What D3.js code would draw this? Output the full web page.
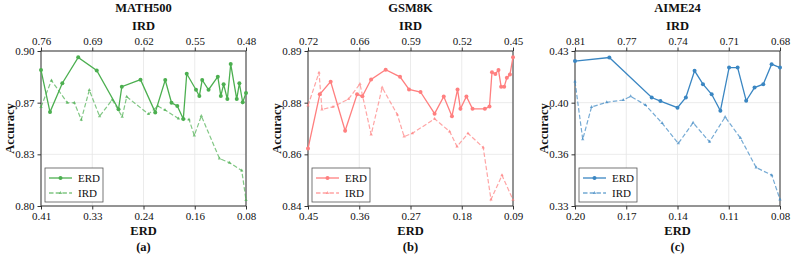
<!DOCTYPE html>
<html>
<head>
<meta charset="utf-8">
<script src="https://cdn.jsdelivr.net/npm/d3@7"></script>
<style>
  body { margin: 0; background: #fff; }
  svg { display: block; }
  svg text { font-family: "Liberation Serif", "Times New Roman", "DejaVu Serif", serif !important; }
</style>
</head>
<body>
<svg id="chart" width="793" height="256"></svg>
<script>
// ---- data ----
const titles = ["MATH500", "GSM8K", "AIME24"];
const captions = ["(a)", "(b)", "(c)"];
const colors = ["#4caf50", "#ff7f7f", "#3a86c2"];

const mathYDomain = [0.80, 0.90];
const mathYTicks = ["0.80", "0.83", "0.87", "0.90"];
const mathErdDomain = [0.41, 0.08];
const mathErdTicks = ["0.41", "0.33", "0.24", "0.16", "0.08"];
const mathIrdDomain = [0.76, 0.48];
const mathIrdTicks = ["0.76", "0.69", "0.62", "0.55", "0.48"];
const mathErdX = [0.410, 0.3955, 0.3757, 0.3501, 0.3203, 0.2852, 0.2799, 0.2498, 0.2261, 0.2100, 0.1999, 0.1906, 0.1809, 0.1754, 0.1605, 0.1551, 0.1505, 0.1403, 0.1254, 0.1205, 0.1160, 0.1100, 0.1046, 0.0949, 0.0907, 0.0853, 0.080];
const mathErdY = [0.8877, 0.8606, 0.8792, 0.8959, 0.8875, 0.8624, 0.8770, 0.8815, 0.8604, 0.8813, 0.8666, 0.8645, 0.8561, 0.8853, 0.8750, 0.8710, 0.8813, 0.8750, 0.8834, 0.8710, 0.8785, 0.8690, 0.8916, 0.8690, 0.8792, 0.8669, 0.8729];
const mathIrdX = [0.760, 0.7457, 0.7241, 0.7145, 0.7050, 0.6940, 0.6800, 0.6627, 0.6491, 0.6429, 0.6132, 0.6006, 0.5906, 0.5722, 0.5578, 0.5506, 0.5410, 0.5162, 0.5025, 0.4858, 0.480];
const mathIrdY = [0.8639, 0.8810, 0.8666, 0.8666, 0.8557, 0.8748, 0.8579, 0.8686, 0.8576, 0.8705, 0.8593, 0.8645, 0.8619, 0.8564, 0.8558, 0.8455, 0.8581, 0.8306, 0.8279, 0.8229, 0.8039];

const gsmYDomain = [0.844, 0.892];
const gsmYTicks = ["0.84", "0.86", "0.88", "0.89"];
const gsmErdDomain = [0.45, 0.09];
const gsmErdTicks = ["0.45", "0.36", "0.27", "0.18", "0.09"];
const gsmIrdDomain = [0.72, 0.45];
const gsmIrdTicks = ["0.72", "0.66", "0.59", "0.52", "0.45"];
const gsmErdX = [0.450, 0.4293, 0.4102, 0.3848, 0.3638, 0.3545, 0.3392, 0.3136, 0.2884, 0.2726, 0.2524, 0.2277, 0.2116, 0.1972, 0.1874, 0.1823, 0.1718, 0.1611, 0.1394, 0.1313, 0.1269, 0.1210, 0.1155, 0.1108, 0.1055, 0.1008, 0.0954, 0.090];
const gsmErdY = [0.8618, 0.8786, 0.8825, 0.8673, 0.8786, 0.8780, 0.8832, 0.8862, 0.8840, 0.8801, 0.8793, 0.8726, 0.8779, 0.8718, 0.8801, 0.8741, 0.8779, 0.8741, 0.8741, 0.8748, 0.8854, 0.8849, 0.8861, 0.8809, 0.8809, 0.8837, 0.8847, 0.8901];
const gsmIrdX = [0.720, 0.7055, 0.7016, 0.6871, 0.6667, 0.6516, 0.6368, 0.6223, 0.6023, 0.5934, 0.5826, 0.5533, 0.5335, 0.5237, 0.5093, 0.4892, 0.4790, 0.4645, 0.450];
const gsmIrdY = [0.8751, 0.8853, 0.8739, 0.8747, 0.8771, 0.8818, 0.8661, 0.8807, 0.8723, 0.8655, 0.8665, 0.8710, 0.8671, 0.8624, 0.8665, 0.8621, 0.8460, 0.8535, 0.8459];

const aimeYDomain = [0.33, 0.43];
const aimeYTicks = ["0.33", "0.36", "0.40", "0.43"];
const aimeErdDomain = [0.20, 0.08];
const aimeErdTicks = ["0.20", "0.17", "0.14", "0.11", "0.08"];
const aimeIrdDomain = [0.81, 0.68];
const aimeIrdTicks = ["0.81", "0.77", "0.74", "0.71", "0.68"];
const aimeErdX = [0.200, 0.1799, 0.1551, 0.1500, 0.1400, 0.1351, 0.1300, 0.1251, 0.1200, 0.1149, 0.1098, 0.1048, 0.0998, 0.0949, 0.0898, 0.0849, 0.080];
const aimeErdY = [0.4235, 0.4258, 0.4000, 0.3977, 0.3934, 0.4000, 0.4172, 0.4086, 0.4021, 0.3914, 0.4193, 0.4193, 0.3979, 0.4064, 0.4086, 0.4215, 0.4193];
const aimeIrdX = [0.810, 0.8051, 0.7995, 0.7899, 0.7794, 0.7747, 0.7653, 0.7548, 0.7445, 0.7351, 0.7247, 0.7148, 0.7051, 0.6951, 0.6852, 0.680];
const aimeIrdY = [0.4103, 0.3730, 0.3939, 0.3969, 0.3984, 0.4008, 0.3951, 0.3835, 0.3704, 0.3837, 0.3714, 0.3874, 0.3739, 0.3548, 0.3499, 0.3342];

const panels = [
  {yDomain: mathYDomain, yTicks: mathYTicks, erdDomain: mathErdDomain, erdTicks: mathErdTicks, irdDomain: mathIrdDomain, irdTicks: mathIrdTicks,
   erdX: mathErdX, erdY: mathErdY, irdX: mathIrdX, irdY: mathIrdY},
  {yDomain: gsmYDomain, yTicks: gsmYTicks, erdDomain: gsmErdDomain, erdTicks: gsmErdTicks, irdDomain: gsmIrdDomain, irdTicks: gsmIrdTicks,
   erdX: gsmErdX, erdY: gsmErdY, irdX: gsmIrdX, irdY: gsmIrdY},
  {yDomain: aimeYDomain, yTicks: aimeYTicks, erdDomain: aimeErdDomain, erdTicks: aimeErdTicks, irdDomain: aimeIrdDomain, irdTicks: aimeIrdTicks,
   erdX: aimeErdX, erdY: aimeErdY, irdX: aimeIrdX, irdY: aimeIrdY}
];

// ---- layout ----
const lefts = [41, 308, 575];
const plotTop = 51, width = 205, height = 155;
const serif = "'Liberation Serif', 'Times New Roman', 'DejaVu Serif', serif";

const svg = d3.select("#chart");

// evenly spaced tick positions between the domain ends
const spaced = (domain, n) => d3.range(n).map(i => domain[0] + (domain[1] - domain[0]) * i / (n - 1));

panels.forEach((p, k) => {
  const color = colors[k];
  const g = svg.append("g").attr("transform", `translate(${lefts[k]},${plotTop})`);

  const x = d3.scaleLinear().domain(p.erdDomain).range([0, width]);
  const xTop = d3.scaleLinear().domain(p.irdDomain).range([0, width]);
  const y = d3.scaleLinear().domain(p.yDomain).range([height, 0]);

  const xVals = spaced(p.erdDomain, p.erdTicks.length);
  const xTopVals = spaced(p.irdDomain, p.irdTicks.length);
  const yVals = spaced(p.yDomain, p.yTicks.length);

  // grid
  g.append("g").selectAll("line").data(yVals).join("line")
    .attr("x1", 0).attr("x2", width)
    .attr("y1", d => y(d)).attr("y2", d => y(d))
    .attr("stroke", "#e6e6e6").attr("stroke-width", 0.8);
  g.append("g").selectAll("line").data(xVals).join("line")
    .attr("y1", 0).attr("y2", height)
    .attr("x1", d => x(d)).attr("x2", d => x(d))
    .attr("stroke", "#e6e6e6").attr("stroke-width", 0.8);

  // axes
  const styleAxis = sel => {
    sel.attr("font-family", serif);
    sel.select(".domain").remove();
    sel.selectAll(".tick line").attr("stroke", "#333");
    sel.selectAll(".tick text").attr("fill", "#111").style("font-size", "11px");
  };
  g.append("g").call(d3.axisLeft(y).tickValues(yVals).tickFormat((d, i) => p.yTicks[i]).tickSize(3.5).tickPadding(3)).call(styleAxis);
  g.append("g").attr("transform", `translate(0,${height})`)
    .call(d3.axisBottom(x).tickValues(xVals).tickFormat((d, i) => p.erdTicks[i]).tickSize(3.5).tickPadding(3)).call(styleAxis);
  g.append("g")
    .call(d3.axisTop(xTop).tickValues(xTopVals).tickFormat((d, i) => p.irdTicks[i]).tickSize(3.5).tickPadding(3)).call(styleAxis);

  g.append("rect").attr("width", width).attr("height", height)
    .attr("fill", "none").attr("stroke", "#333").attr("stroke-width", 1);

  // IRD series (top axis), dashed with small triangles
  const irdPts = p.irdX.map((v, i) => [xTop(v), y(p.irdY[i])]);
  g.append("path").datum(irdPts)
    .attr("fill", "none").attr("stroke", color).attr("stroke-width", 1.2)
    .attr("stroke-dasharray", "4.5,2.2").attr("opacity", 0.7)
    .attr("d", d3.line());
  g.append("g").selectAll("path").data(irdPts).join("path")
    .attr("transform", d => `translate(${d[0]},${d[1]})`)
    .attr("d", d3.symbol(d3.symbolTriangle, 5))
    .attr("fill", color).attr("opacity", 0.7);

  // ERD series (bottom axis), solid with dots
  const erdPts = p.erdX.map((v, i) => [x(v), y(p.erdY[i])]);
  g.append("path").datum(erdPts)
    .attr("fill", "none").attr("stroke", color).attr("stroke-width", 1.3)
    .attr("d", d3.line());
  g.append("g").selectAll("circle").data(erdPts).join("circle")
    .attr("cx", d => d[0]).attr("cy", d => d[1]).attr("r", 2)
    .attr("fill", color);

  // legend
  const lg = g.append("g").attr("transform", `translate(4,${height - 38})`);
  lg.append("rect").attr("width", 58).attr("height", 34)
    .attr("fill", "#fff").attr("stroke", "#555").attr("stroke-width", 0.8);
  [["ERD", null, 1], ["IRD", "4.5,2.2", 0.7]].forEach(([name, dash, op], i) => {
    const ry = 10 + i * 15;
    lg.append("line").attr("x1", 4).attr("x2", 27).attr("y1", ry).attr("y2", ry)
      .attr("stroke", color).attr("stroke-width", 1.3).attr("opacity", op)
      .attr("stroke-dasharray", dash);
    if (i === 0) {
      lg.append("circle").attr("cx", 15.5).attr("cy", ry).attr("r", 2).attr("fill", color);
    } else {
      lg.append("path").attr("transform", `translate(15.5,${ry})`)
        .attr("d", d3.symbol(d3.symbolTriangle, 5)).attr("fill", color).attr("opacity", op);
    }
    lg.append("text").attr("x", 33).attr("y", ry + 3.8).text(name)
      .attr("font-family", serif).style("font-size", "11px").attr("fill", "#111");
  });

  // labels
  const cx = width / 2;
  const bold = sel => sel.attr("text-anchor", "middle").attr("font-family", serif)
    .style("font-weight", "bold").style("font-size", "12.5px").attr("fill", "#111");
  g.append("text").attr("x", cx).attr("y", 12 - plotTop).text(titles[k]).call(bold);
  g.append("text").attr("x", cx).attr("y", 29.5 - plotTop).text("IRD").call(bold);
  g.append("text").attr("x", cx).attr("y", 235 - plotTop).text("ERD").call(bold);
  g.append("text").attr("x", cx).attr("y", 251 - plotTop).text(captions[k]).call(bold);
  g.append("text").attr("transform", `translate(-27,${height / 2}) rotate(-90)`)
    .text("Accuracy").call(bold);
});
</script>
</body>
</html>
